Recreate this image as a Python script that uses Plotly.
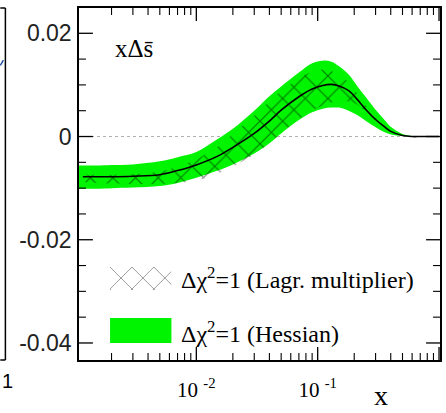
import math
import plotly.graph_objects as go

# x grid (log scale) shared by the bands and the central curve
x_grid = [0.00108, 0.00116, 0.0015, 0.002, 0.003, 0.005, 0.007, 0.01, 0.015, 0.02,
          0.03, 0.04, 0.05, 0.07, 0.09, 0.11, 0.13, 0.15, 0.18, 0.21,
          0.25, 0.3, 0.35, 0.4, 0.5, 0.6, 0.7, 0.85, 1.0]

# central fit x*Delta s-bar
central = [-0.0078, -0.0078, -0.0078, -0.0078, -0.0077, -0.0074, -0.0066, -0.0055, -0.0038, -0.0021,
           0.0006, 0.0030, 0.0051, 0.0077, 0.0092, 0.0099, 0.0101, 0.0098, 0.0089, 0.0073,
           0.0052, 0.0033, 0.0020, 0.0010, 0.0002, 0.0, 0.0, 0.0, 0.0]

# Hessian uncertainty band (Delta chi^2 = 1)
hess_upper = [-0.0056, -0.0056, -0.0056, -0.0055, -0.0054, -0.0048, -0.0040, -0.0030, -0.0005, 0.0015,
              0.0050, 0.0078, 0.0097, 0.0124, 0.0142, 0.0147, 0.0145, 0.0136, 0.0120, 0.0099,
              0.0076, 0.0052, 0.0034, 0.0019, 0.0005, 0.0001, 0.0, 0.0, 0.0]
hess_lower = [-0.0101, -0.0101, -0.0101, -0.0100, -0.0099, -0.0096, -0.0090, -0.0080, -0.0066, -0.0054,
              -0.0033, -0.0013, 0.0006, 0.0032, 0.0047, 0.0054, 0.0056, 0.0056, 0.0050, 0.0042,
              0.0030, 0.0018, 0.0009, 0.0004, 0.0001, 0.0, 0.0, 0.0, 0.0]

# Lagrange multiplier uncertainty band (Delta chi^2 = 1)
lagr_upper = [-0.0074, -0.0074, -0.0074, -0.0074, -0.0073, -0.0068, -0.0058, -0.0044, -0.0020, 0.0005,
              0.0040, 0.0068, 0.0088, 0.0112, 0.0126, 0.0130, 0.0127, 0.0120, 0.0105, 0.0085,
              0.0060, 0.0036, 0.0020, 0.0010, 0.0002, 0.0, 0.0, 0.0, 0.0]
lagr_lower = [-0.0086, -0.0088, -0.0090, -0.0091, -0.0092, -0.0092, -0.0090, -0.0085, -0.0072, -0.0058,
              -0.0035, -0.0013, 0.0006, 0.0034, 0.0050, 0.0060, 0.0066, 0.0069, 0.0068, 0.0062,
              0.0048, 0.0031, 0.0020, 0.0010, 0.0002, 0.0, 0.0, 0.0, 0.0]

y_tickvals = [-0.04, -0.02, 0, 0.02]
y_ticktext = ["-0.04", "-0.02", "0", "0.02"]
y_minor_step = 0.005
x_tickvals = [0.001, 0.01, 0.1, 1.0]
x_ticktext = ["", "10 <sup>-2</sup>", "10 <sup>-1</sup>", ""]
x_minor = [m * 10.0 ** e for e in (-3, -2, -1) for m in range(2, 10)]

legend_labels = ["Δχ<sup>2</sup>=1 (Lagr. multiplier)", "Δχ<sup>2</sup>=1 (Hessian)"]

X_RANGE = [-2.967, 0.008]          # log10 units
Y_RANGE = [-0.0433, 0.0249]
W, H = 446, 413
MARGIN = dict(l=79, r=4, t=8, b=53)
PLOT_W = W - MARGIN["l"] - MARGIN["r"]
PLOT_H = H - MARGIN["t"] - MARGIN["b"]

GREEN = "#00f400"
SERIF = "Liberation Serif, Times New Roman, serif"
SANS = "Liberation Sans, Arial, sans-serif"

fig = go.Figure()

# Hessian band
fig.add_trace(go.Scatter(x=x_grid, y=hess_lower, mode="lines", line=dict(width=0, shape="spline"),
                         showlegend=False, hoverinfo="skip"))
fig.add_trace(go.Scatter(x=x_grid, y=hess_upper, mode="lines", line=dict(width=0, shape="spline"),
                         fill="tonexty", fillcolor=GREEN, showlegend=False, hoverinfo="skip"))

# Lagrange multiplier band (cross hatched)
hatch = dict(shape="x", fgcolor="#000000", bgcolor="rgba(0,0,0,0)", size=16, solidity=0.14)
fig.add_trace(go.Scatter(x=x_grid, y=lagr_lower, mode="lines", line=dict(width=0, shape="spline"),
                         showlegend=False, hoverinfo="skip"))
fig.add_trace(go.Scatter(x=x_grid, y=lagr_upper, mode="lines", line=dict(width=0, shape="spline"),
                         fill="tonexty", fillcolor="rgba(0,0,0,0)", fillpattern=hatch,
                         showlegend=False, hoverinfo="skip"))

# central curve
fig.add_trace(go.Scatter(x=x_grid[1:], y=central[1:], mode="lines",
                         line=dict(color="black", width=1.6, shape="spline"),
                         showlegend=False, hoverinfo="skip"))

# legend swatch for the hatched band: fills its own small unit subplot
fig.add_trace(go.Scatter(x=[0, 1, 1, 0, 0], y=[0, 0, 1, 1, 0],
                         mode="lines", line=dict(width=0), fill="toself",
                         fillcolor="rgba(0,0,0,0)",
                         fillpattern=dict(shape="x", fgcolor="#333", bgcolor="rgba(0,0,0,0)",
                                          size=15.5, solidity=0.12),
                         xaxis="x2", yaxis="y2", showlegend=False, hoverinfo="skip"))

frame = dict(showline=True, linecolor="black", linewidth=1.5, mirror=True,
             ticks="", showgrid=False, zeroline=False)

fig.update_layout(
    width=W, height=H,
    margin=MARGIN,
    paper_bgcolor="white", plot_bgcolor="rgba(0,0,0,0)",
    showlegend=False,
    xaxis=dict(type="log", range=X_RANGE, tickmode="array",
               tickvals=x_tickvals, ticktext=x_ticktext,
               tickfont=dict(family=SERIF, size=21, color="black"),
               ticklabelstandoff=10, **frame),
    yaxis=dict(range=Y_RANGE, tickmode="array", tickvals=y_tickvals, ticktext=y_ticktext,
               tickfont=dict(family=SANS, size=23, color="#222"),
               ticklabelstandoff=1, **frame),
    xaxis2=dict(domain=[0.086, 0.256], range=[0, 1], visible=False, anchor="y2"),
    yaxis2=dict(domain=[0.199, 0.264], range=[0, 1], visible=False, anchor="x2"),
)


def x_frac(v):
    """Fraction of the plot width at which the log-axis value v sits."""
    return (math.log10(v) - X_RANGE[0]) / (X_RANGE[1] - X_RANGE[0])


def tick_marks():
    """Inside tick marks on all four sides of the frame."""
    marks = []
    # x axis: bottom and top
    for vals, length, width in ((x_tickvals, 13, 1.3), (x_minor, 7, 1.1)):
        dy = length / PLOT_H
        for v in vals:
            p = x_frac(v)
            if 0 <= p <= 1:
                for y0, y1 in ((0, dy), (1, 1 - dy)):
                    marks.append(dict(type="line", xref="paper", yref="paper", x0=p, x1=p, y0=y0, y1=y1,
                                      line=dict(color="black", width=width)))
    # y axis: left and right
    n_lo = math.ceil(Y_RANGE[0] / y_minor_step - 1e-9)
    n_hi = math.floor(Y_RANGE[1] / y_minor_step + 1e-9)
    y_minor = [round(k * y_minor_step, 4) for k in range(n_lo, n_hi + 1)]
    y_minor = [v for v in y_minor if all(abs(v - t) > 1e-9 for t in y_tickvals)]
    for vals, length, width in ((y_tickvals, 14, 1.3), (y_minor, 7, 1.1)):
        dx = length / PLOT_W
        for v in vals:
            for x0, x1 in ((0, dx), (1, 1 - dx)):
                marks.append(dict(type="line", xref="paper", yref="y", x0=x0, x1=x1, y0=v, y1=v,
                                  line=dict(color="black", width=width)))
    return marks


shapes = [
    # dotted zero line
    dict(type="line", xref="paper", yref="y", x0=0, x1=1, y0=0, y1=0,
         line=dict(color="#b0b0b0", width=1, dash="dot"), layer="below"),
    # Hessian legend swatch
    dict(type="rect", xref="paper", yref="paper", x0=0.086, x1=0.256, y0=0.048, y1=0.119,
         fillcolor=GREEN, line=dict(width=0)),
    # edge of the neighbouring panel
    dict(type="line", xref="paper", yref="paper", x0=-0.2039, x1=-0.2039, y0=0, y1=1,
         line=dict(color="black", width=1.5)),
    dict(type="line", xref="paper", yref="paper", x0=-0.218, x1=-0.2039, y0=1, y1=1,
         line=dict(color="black", width=1.5)),
    dict(type="line", xref="paper", yref="paper", x0=-0.218, x1=-0.2039, y0=0, y1=0,
         line=dict(color="black", width=1.5)),
    dict(type="line", xref="paper", yref="paper", x0=-0.218, x1=-0.2095, y0=0.837, y1=0.852,
         line=dict(color="#1f4e9a", width=1.5)),
] + tick_marks()
fig.update_layout(shapes=shapes)

annotations = [
    dict(text="xΔs̄", xref="paper", yref="paper", x=0.094, y=0.886, xanchor="left", yanchor="middle",
         showarrow=False, font=dict(family=SERIF, size=25, color="black")),
    dict(text=legend_labels[0], xref="paper", yref="paper", x=0.278, y=0.233, xanchor="left",
         yanchor="middle", showarrow=False, font=dict(family=SERIF, size=24, color="black")),
    dict(text=legend_labels[1], xref="paper", yref="paper", x=0.278, y=0.080, xanchor="left",
         yanchor="middle", showarrow=False, font=dict(family=SERIF, size=24, color="black")),
    dict(text="x", xref="paper", yref="paper", x=0.837, y=-0.100, xanchor="center", yanchor="middle",
         showarrow=False, font=dict(family=SERIF, size=28, color="black")),
    dict(text="1", xref="paper", yref="paper", x=-0.199, y=-0.060, xanchor="center", yanchor="middle",
         showarrow=False, font=dict(family=SANS, size=20, color="black")),
]
fig.update_layout(annotations=annotations)

fig.write_html("out.html")
